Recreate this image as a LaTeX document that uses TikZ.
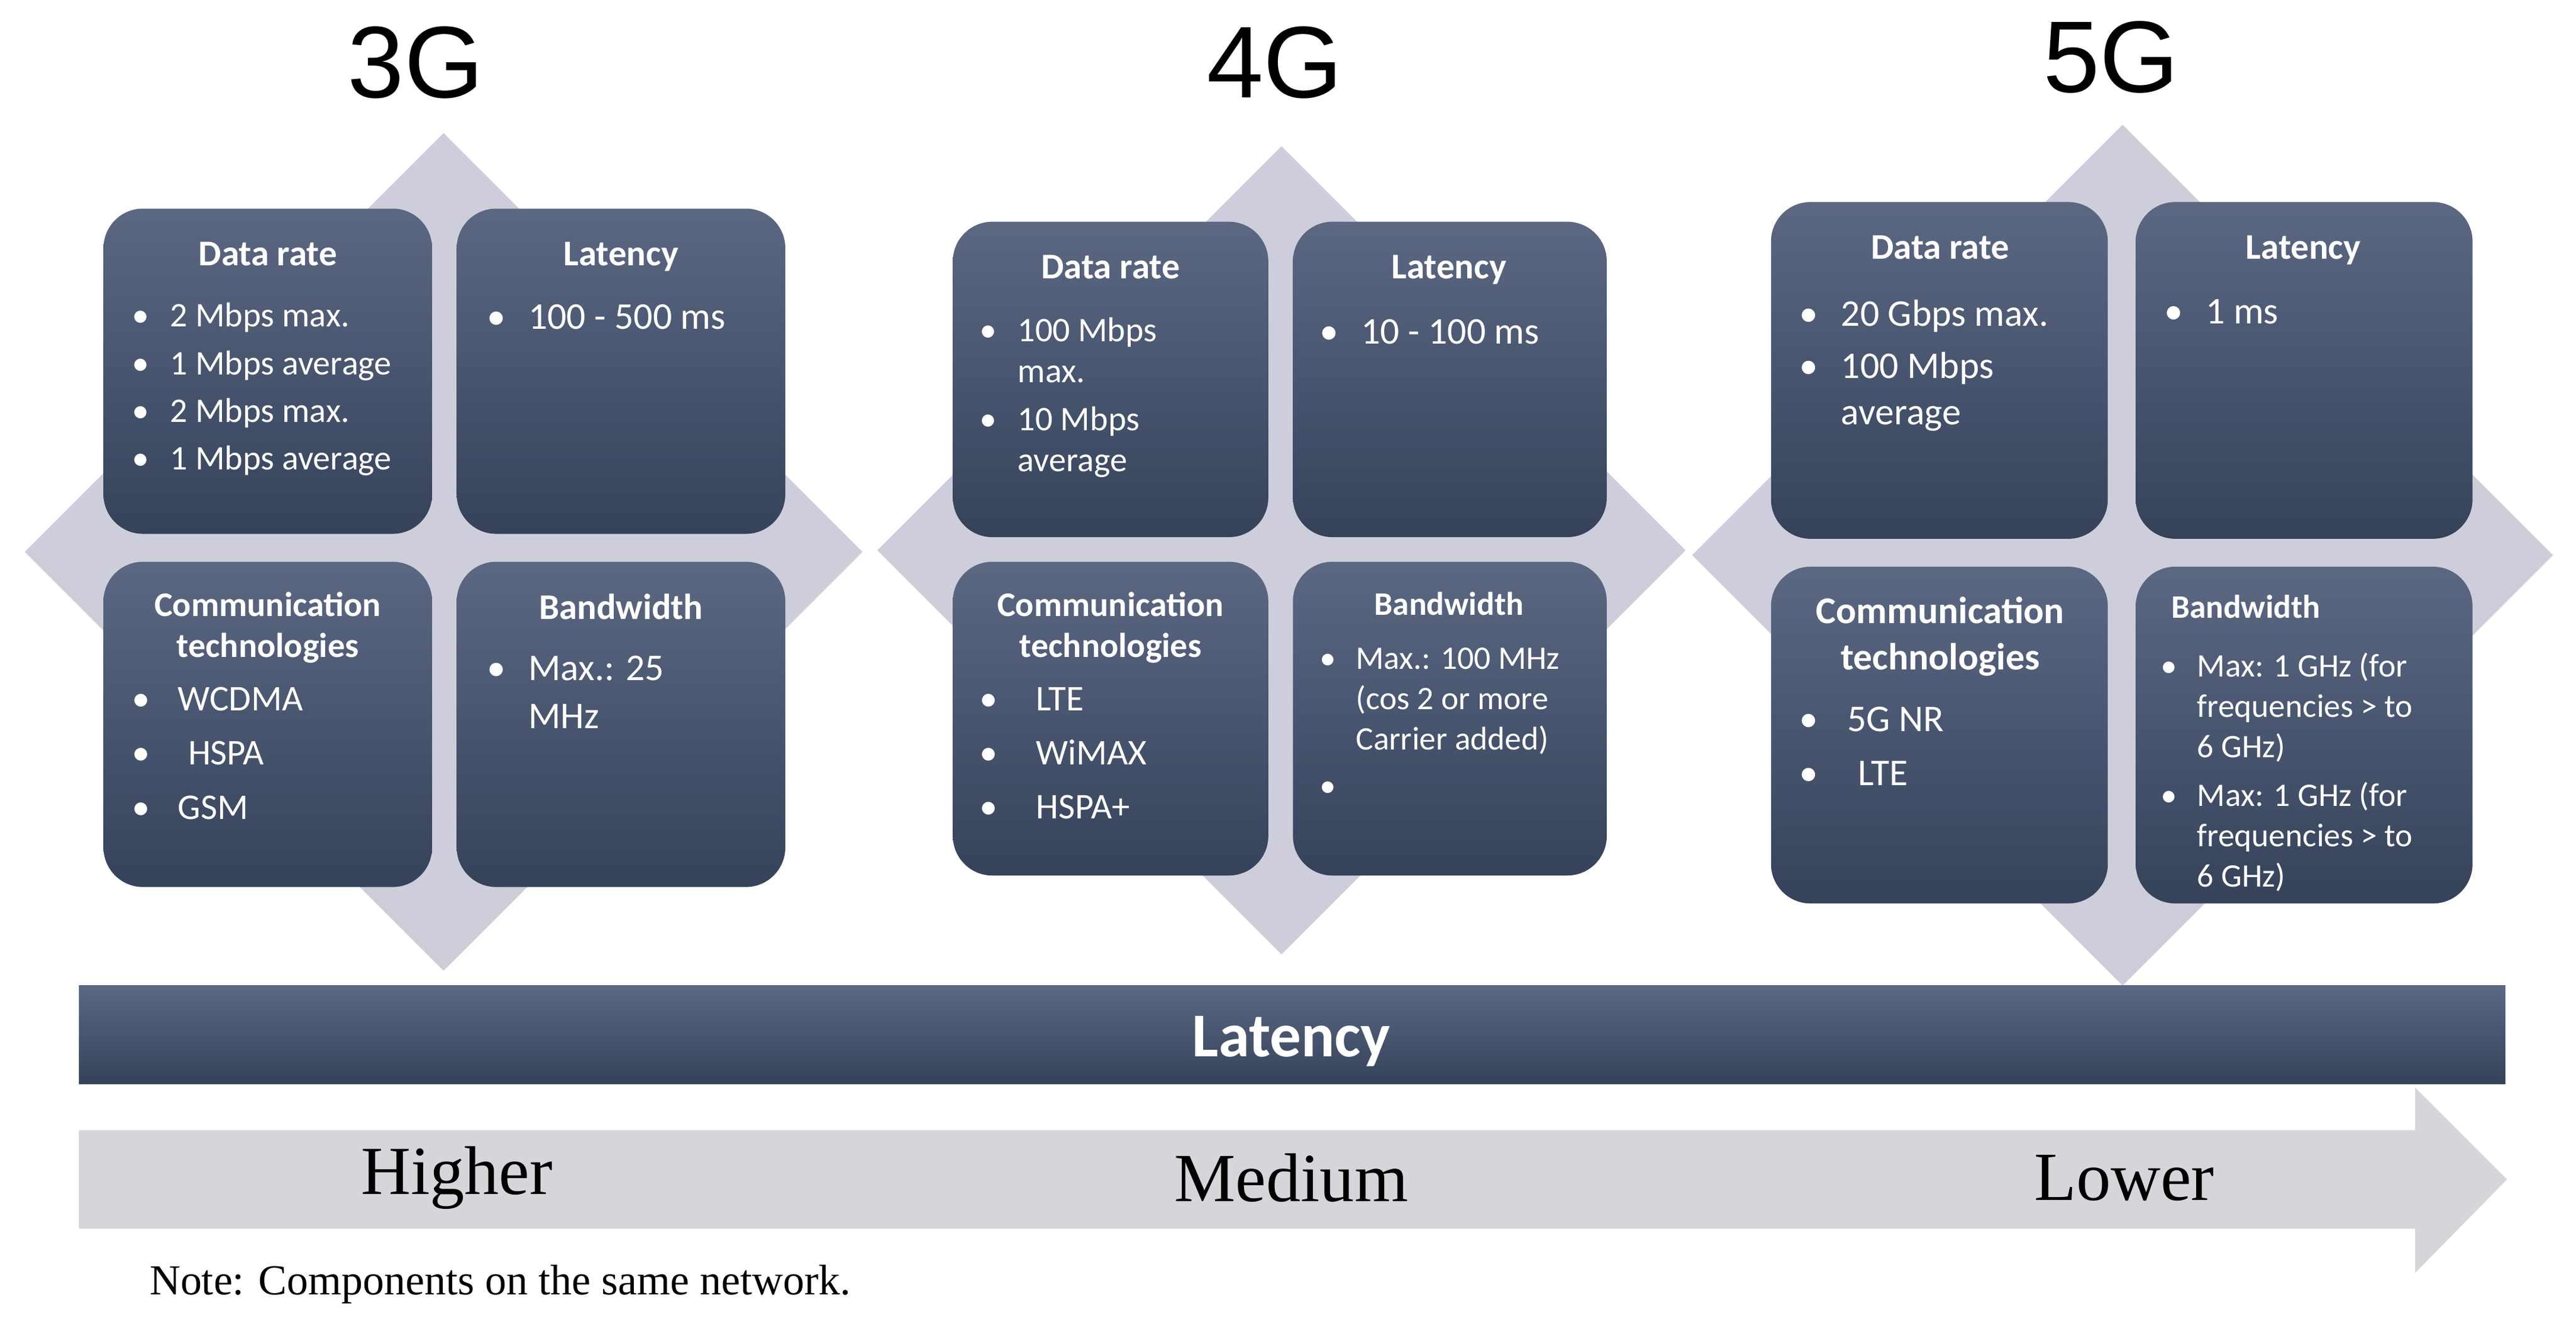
\documentclass[tikz,border=0pt]{standalone}
\usepackage{fontspec}
\setmainfont{Liberation Serif}
\newfontfamily\calfnt{Carlito}
\newfontfamily\arl{Liberation Sans}
\usetikzlibrary{positioning}
\newcommand{\bl}{\makebox[1.1em][l]{\textbullet}}
\newcommand{\ct}{\hspace*{1.1em}}
\tikzset{
 diam/.style={fill=gray!30!white!95!blue},
 panel/.style={rounded corners=12pt, top color=panelTop, bottom color=panelBot, draw=none},
 ptitle/.style={font=\calfnt\bfseries\fontsize{11}{12.5}\selectfont, text=white, align=center, anchor=north, inner sep=0pt},
 pbody/.style={font=\calfnt\fontsize{10.5}{14.5}\selectfont, text=white, align=left, anchor=north west, inner sep=0pt},
 gen/.style={font=\arl\fontsize{31}{31}\selectfont},
 lvl/.style={font=\fontsize{21}{21}\selectfont}
}
\definecolor{panelTop}{HTML}{5C6882}
\definecolor{panelBot}{HTML}{35425A}
\definecolor{arrgray}{HTML}{D5D6DA}
\begin{document}
\begin{tikzpicture}[x=0.5pt,y=-0.5pt]
\useasboundingbox (0,0) rectangle (1568,806);
% 3G
\node[gen] (g3) at (253,38) {3G};
\fill[diam] (15,336) -- (270,81) -- (525,336) -- (270,591) -- cycle;
\path[panel] (63,127) rectangle (263,325);
\path[panel] (278,127) rectangle (478,325);
\path[panel] (63,342) rectangle (263,540);
\path[panel] (278,342) rectangle (478,540);
\node[ptitle] (dr3) at (163,147) {Data rate};
\node[pbody] (drb3) at (80,184) {\bl2 Mbps max.\\\bl1 Mbps average\\\bl2 Mbps max.\\\bl1 Mbps average};
\node[ptitle] (la3) at (378,147) {Latency};
\node[pbody,font=\calfnt\fontsize{11.5}{14.5}\selectfont] (lab3) at (296,185) {\bl100 - 500 ms};
\node[ptitle,font=\calfnt\bfseries\fontsize{10.5}{12.5}\selectfont] (ct3) at (163,360) {Communication\\technologies};
\node[pbody,font=\calfnt\fontsize{11}{16.5}\selectfont] (ctb3) at (80,418) {\bl\,WCDMA\\\bl\ \ HSPA\\\bl\,GSM};
\node[ptitle] (bw3) at (378,361) {Bandwidth};
\node[pbody,font=\calfnt\fontsize{11.5}{14.5}\selectfont] (bwb3) at (296,399) {\bl Max.: 25\\\ct MHz};
% 4G
\node[gen] (g4) at (776,38) {4G};
\fill[diam] (534,335) -- (780,89) -- (1026,335) -- (780,581) -- cycle;
\path[panel] (580,135) rectangle (772,327);
\path[panel] (787,135) rectangle (978,327);
\path[panel] (580,342) rectangle (772,533);
\path[panel] (787,342) rectangle (978,533);
\node[ptitle] (dr4) at (676,155) {Data rate};
\node[pbody,font=\calfnt\fontsize{10.5}{12.5}\selectfont] (drb4) at (596,193) {\bl100 Mbps\\\ct max.\\[2pt]\bl10 Mbps\\\ct average};
\node[ptitle] (la4) at (882,155) {Latency};
\node[pbody,font=\calfnt\fontsize{11.5}{14.5}\selectfont] (lab4) at (803,194) {\bl10 - 100 ms};
\node[ptitle,font=\calfnt\bfseries\fontsize{10.5}{12.5}\selectfont] (ct4) at (676,360) {Communication\\technologies};
\node[pbody,font=\calfnt\fontsize{11}{16.5}\selectfont] (ctb4) at (596,418) {\bl\ \ LTE\\\bl\ \ WiMAX\\\bl\ \ HSPA+};
\node[ptitle,font=\calfnt\bfseries\fontsize{10}{12}\selectfont] (bw4) at (882,360) {Bandwidth};
\node[pbody,font=\calfnt\fontsize{10}{12.3}\selectfont] (bwb4) at (803,394) {\bl Max.: 100 MHz\\\ct(cos 2 or more\\\ct Carrier added)\\[2pt]\bl};
% 5G
\node[gen] (g5) at (1285,35) {5G};
\fill[diam] (1030,338) -- (1292,76) -- (1554,338) -- (1292,600) -- cycle;
\path[panel] (1078,123) rectangle (1283,328);
\path[panel] (1300,123) rectangle (1505,328);
\path[panel] (1078,345) rectangle (1283,550);
\path[panel] (1300,345) rectangle (1505,550);
\node[ptitle] (dr5) at (1181,143) {Data rate};
\node[pbody,font=\calfnt\fontsize{11.5}{14}\selectfont] (drb5) at (1095,182) {\bl20 Gbps max.\\[2pt]\bl100 Mbps\\\ct average};
\node[ptitle] (la5) at (1402,143) {Latency};
\node[pbody,font=\calfnt\fontsize{11.5}{14.5}\selectfont] (lab5) at (1317,182) {\bl1 ms};
\node[ptitle,font=\calfnt\bfseries\fontsize{11.5}{14}\selectfont] (ct5) at (1181,363) {Communication\\technologies};
\node[pbody,font=\calfnt\fontsize{11.5}{16.5}\selectfont] (ctb5) at (1095,430) {\bl\,5G NR\\\bl\ \ LTE};
\node[ptitle,font=\calfnt\bfseries\fontsize{10}{12}\selectfont] (bw5) at (1367,362) {Bandwidth};
\node[pbody,font=\calfnt\fontsize{10}{12.3}\selectfont] (bwb5) at (1315,397) {\bl Max: 1 GHz (for\\\ct frequencies > to\\\ct 6 GHz)\\[2.5pt]\bl Max: 1 GHz (for\\\ct frequencies > to\\\ct 6 GHz)};
% latency bar and arrow
\path[top color=panelTop, bottom color=panelBot] (48,600) rectangle (1525,660);
\node[font=\calfnt\bfseries\fontsize{19}{19}\selectfont, text=white] (lat) at (786,634) {Latency};
\fill[arrgray] (48,688) -- (1470,688) -- (1470,662) -- (1526,718) -- (1470,775) -- (1470,748) -- (48,748) -- cycle;
\node[lvl] (hi) at (278,717) {Higher};
\node[lvl] (me) at (786,717) {Medium};
\node[lvl] (lo) at (1293,717) {Lower};
\node[font=\fontsize{13}{13}\selectfont, anchor=west] (note) at (84,782) {Note: Components on the same network.};
\end{tikzpicture}
\end{document}
